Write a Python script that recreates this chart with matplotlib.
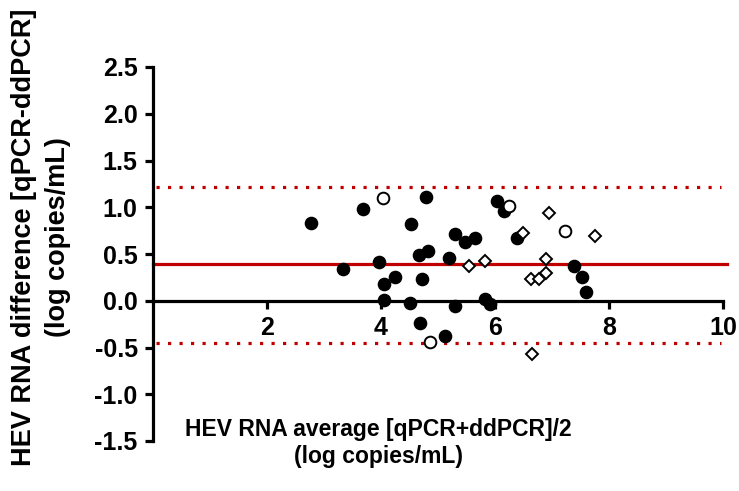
import matplotlib
matplotlib.use("Agg")
import matplotlib.pyplot as plt

# HEV RNA Bland-Altman data
filled_x = [2.78, 3.33, 3.68, 3.97, 4.06, 4.06, 4.24, 4.50, 4.53, 4.66, 4.72, 4.69, 4.79, 4.82,
            5.13, 5.19, 5.29, 5.30, 5.48, 5.65, 5.83, 5.92, 6.03, 6.15, 6.38, 7.39, 7.53, 7.60]
filled_y = [0.83, 0.34, 0.98, 0.41, 0.18, 0.01, 0.25, -0.02, 0.82, 0.485, 0.23, -0.24, 1.11, 0.535,
            -0.38, 0.46, 0.71, -0.06, 0.63, 0.675, 0.02, -0.03, 1.07, 0.96, 0.675, 0.37, 0.25, 0.095]
open_x = [4.04, 4.86, 6.24, 7.22]
open_y = [1.10, -0.44, 1.01, 0.75]
diamond_x = [5.54, 5.83, 6.49, 6.94, 7.75, 6.89, 6.63, 6.78, 6.89, 6.65]
diamond_y = [0.37, 0.43, 0.72, 0.94, 0.69, 0.45, 0.235, 0.235, 0.30, -0.57]

bias = 0.39
loa_upper = 1.22
loa_lower = -0.45

x_ticks = [2, 4, 6, 8, 10]
y_ticks = [-1.5, -1.0, -0.5, 0.0, 0.5, 1.0, 1.5, 2.0, 2.5]

plt.rcParams['font.family'] = ['Liberation Sans', 'DejaVu Sans']
plt.rcParams['font.weight'] = 'bold'

fig = plt.figure(figsize=(7.39, 4.91), dpi=100)
ax = fig.add_axes([153/739, 1 - 441/491, 570/739, 374/491])

red = '#c00000'
ax.plot([0, 10.07], [bias, bias], color=red, lw=2.3, clip_on=False, zorder=2)
for v in [loa_upper, loa_lower]:
    ax.plot([0.05, 9.97], [v, v], color=red, lw=2.3, linestyle=(0, (1, 2.6)),
            clip_on=False, zorder=2)

ax.plot(filled_x, filled_y, 'o', color='black', ms=8.8, zorder=3, clip_on=False)
ax.plot(open_x, open_y, 'o', mfc='white', mec='black', mew=1.4, ms=8.4, zorder=4, clip_on=False)
ax.plot(diamond_x, diamond_y, 'D', mfc='white', mec='black', mew=1.4, ms=6.6, zorder=4, clip_on=False)

ax.set_xlim(0, 10)
ax.set_ylim(-1.5, 2.5)

for s in ['top', 'right']:
    ax.spines[s].set_visible(False)
ax.spines['bottom'].set_position(('data', 0))
ax.spines['bottom'].set_linewidth(2.3)
ax.spines['left'].set_linewidth(2.3)

ax.set_xticks(x_ticks)
ax.set_yticks(y_ticks)
ax.set_yticklabels([f'{v:.1f}' for v in y_ticks])
ax.tick_params(axis='both', direction='out', length=6, width=2.3, labelsize=18, pad=5)

ax.text(0.395, -0.005, 'HEV RNA average [qPCR+ddPCR]/2\n(log copies/mL)', transform=ax.transAxes,
        ha='center', va='center', fontsize=16.5, fontweight='bold', linespacing=1.2)

fig.text(41/739, 1 - 237/491, 'HEV RNA difference [qPCR-ddPCR]\n(log copies/mL)', rotation=90,
         ha='center', va='center', fontsize=19.5, fontweight='bold', linespacing=1.42)

fig.savefig('out.png', dpi=100)
